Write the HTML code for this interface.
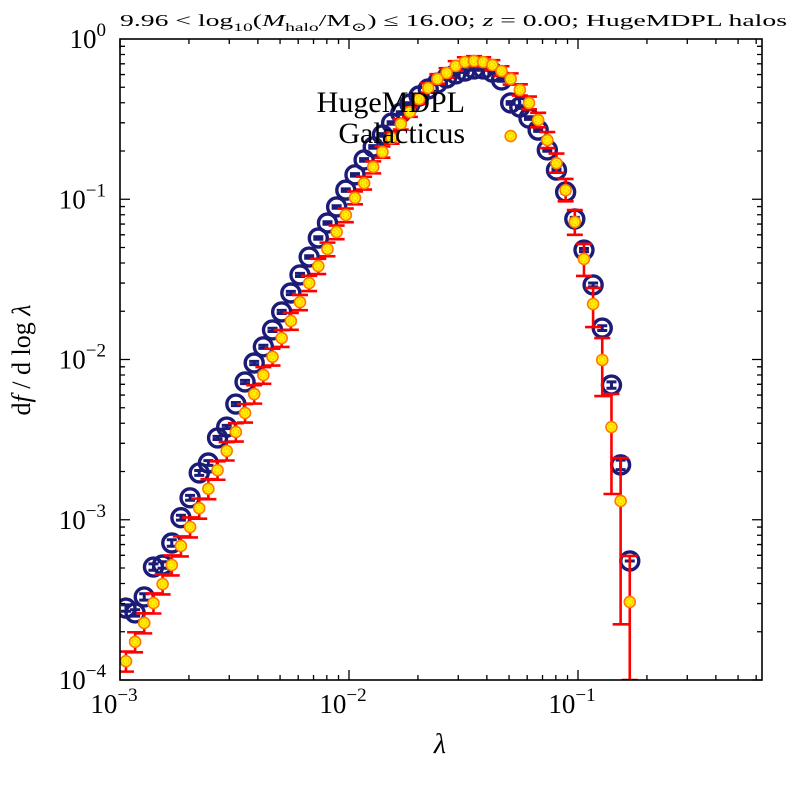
<!DOCTYPE html>
<html><head><meta charset="utf-8"><style>
html,body{margin:0;padding:0;background:#fff;overflow:hidden;width:800px;height:800px}
svg{display:block;position:fixed;top:0;left:0;overflow:hidden;font-family:"Liberation Serif","DejaVu Serif",serif}
</style></head><body>
<svg id="chart" width="800" height="800" viewBox="0 0 800 800" xmlns="http://www.w3.org/2000/svg">
<rect width="800" height="800" fill="#fff"/>
<text x="120" y="26" font-size="17" textLength="667" lengthAdjust="spacingAndGlyphs">9.96 &lt; log<tspan font-size="12" dy="5">10</tspan><tspan dy="-5">(</tspan><tspan font-style="italic">M</tspan><tspan font-size="12" dy="5">halo</tspan><tspan dy="-5">/M</tspan><tspan font-size="12" dy="5">⊙</tspan><tspan dy="-5">) ≤ 16.00; </tspan><tspan font-style="italic">z</tspan> = 0.00; HugeMDPL halos</text>
<text x="440" y="753" font-size="28" font-style="italic" text-anchor="middle">λ</text>
<text transform="translate(30,360) rotate(-90)" font-size="26" text-anchor="middle">d<tspan font-style="italic">f</tspan> / d log <tspan font-style="italic">λ</tspan></text>
<g id="marks"></g>
<g id="axes"></g>
<text x="465" y="112" font-size="30" text-anchor="end">HugeMDPL</text>
<text x="465" y="143" font-size="30" text-anchor="end">Galacticus</text>
</svg>
<script>
// ---- data ----
const lambdaGrid = [1.062e-3,1.164e-3,1.276e-3,1.400e-3,1.535e-3,1.683e-3,1.845e-3,2.023e-3,2.218e-3,2.432e-3,2.667e-3,2.924e-3,3.206e-3,3.516e-3,3.855e-3,4.227e-3,4.634e-3,5.082e-3,5.572e-3,6.109e-3,6.699e-3,7.345e-3,8.054e-3,8.831e-3,9.683e-3,
1.062e-2,1.164e-2,1.276e-2,1.400e-2,1.535e-2,1.683e-2,1.845e-2,2.023e-2,2.218e-2,2.432e-2,2.667e-2,2.924e-2,3.206e-2,3.516e-2,3.855e-2,4.227e-2,4.634e-2,5.082e-2,5.572e-2,6.109e-2,6.699e-2,7.345e-2,8.054e-2,8.831e-2,9.683e-2,
0.1062,0.1164,0.1276,0.1400,0.1535,0.1683];
const hugeValues = [2.81e-4,2.62e-4,3.30e-4,5.07e-4,5.22e-4,7.16e-4,1.03e-3,1.37e-3,1.96e-3,2.26e-3,3.24e-3,3.79e-3,5.27e-3,7.24e-3,9.51e-3,1.20e-2,1.53e-2,1.98e-2,2.60e-2,3.37e-2,4.36e-2,5.73e-2,7.11e-2,8.95e-2,0.114,
0.142,0.176,0.212,0.252,0.299,0.345,0.393,0.441,0.488,0.531,0.571,0.605,0.631,0.650,0.650,0.622,0.555,0.399,0.376,0.321,0.270,0.203,0.152,0.111,7.53e-2,
4.82e-2,2.92e-2,1.57e-2,6.93e-3,2.20e-3,5.53e-4];
const hugeErr = [0.02,0.02,0.02,0.02,0.02,0.02,0.015,0.015,0.015,0.015,0.01,0.01,0.01,0.01,0.01,0.01,0.01,0.01,0.01,0.01,0.008,0.008,0.008,0.008,0.008,
0.008,0.008,0.008,0.008,0.008,0.008,0.008,0.008,0.008,0.008,0.008,0.008,0.008,0.008,0.008,0.008,0.008,0.008,0.008,0.008,0.008,0.008,0.008,0.008,0.01,
0.01,0.012,0.015,0.02,0.03,0.0];
const galLambda = lambdaGrid.concat([5.082e-2]);
const galValues = [1.31e-4,1.73e-4,2.27e-4,3.02e-4,3.97e-4,5.22e-4,6.86e-4,9.01e-4,1.18e-3,1.56e-3,2.04e-3,2.69e-3,3.53e-3,4.64e-3,6.09e-3,8.00e-3,1.04e-2,1.36e-2,1.74e-2,2.28e-2,3.00e-2,3.83e-2,4.89e-2,6.25e-2,7.98e-2,
0.102,0.126,0.159,0.197,0.241,0.295,0.350,0.422,0.495,0.563,0.614,0.679,0.718,0.729,0.718,0.689,0.631,0.563,0.481,0.399,0.312,0.234,0.168,0.114,7.21e-2,
4.24e-2,2.22e-2,9.93e-3,3.79e-3,1.31e-3,3.07e-4,0.248];
const galErrLo = [0.065,0.065,0.065,0.065,0.065,0.065,0.065,0.065,0.065,0.065,0.06,0.06,0.06,0.06,0.06,0.055,0.055,0.055,0.055,0.05,0.05,0.05,0.045,0.045,0.045,
0.04,0.04,0.04,0.035,0.035,0.035,0.03,0.03,0.03,0.03,0.03,0.03,0.03,0.03,0.03,0.03,0.03,0.035,0.035,0.04,0.045,0.05,0.06,0.07,0.08,
0.106,0.144,0.225,0.418,0.77,3.0,0.0];
const galErrHi = [0.06,0.06,0.06,0.06,0.06,0.06,0.06,0.06,0.06,0.06,0.055,0.055,0.055,0.055,0.055,0.05,0.05,0.05,0.05,0.045,0.045,0.045,0.04,0.04,0.04,
0.04,0.04,0.035,0.035,0.035,0.03,0.03,0.03,0.03,0.03,0.03,0.03,0.03,0.03,0.03,0.03,0.03,0.035,0.035,0.04,0.045,0.05,0.06,0.07,0.075,
0.094,0.10,0.137,0.206,0.268,0.287,0.0];
const yTickExps = [0,-1,-2,-3,-4];
const xTickExps = [-3,-2,-1];

// ---- scales ----
const L=120,R=762,T=39,B=680;
const X = v => L + (Math.log10(v)+3)*229;
const Y = v => T + (-Math.log10(v))*160.25;
const clampY = y => Math.max(T, Math.min(B, y));
const NS="http://www.w3.org/2000/svg";
function mk(tag, attrs, parent){const e=document.createElementNS(NS,tag);for(const k in attrs)e.setAttribute(k,attrs[k]);parent.appendChild(e);return e;}
const marks=document.getElementById('marks'), axes=document.getElementById('axes');
const clipRect = mk('clipPath',{id:'plotclip'},marks);
mk('rect',{x:L,y:T,width:R-L,height:B-T},clipRect);
const plot = mk('g',{'clip-path':'url(#plotclip)'},marks);

// HugeMDPL circles
const gH = mk('g',{},plot);


lambdaGrid.forEach((lam,i)=>{
  const x=X(lam), y=Y(hugeValues[i]);
  const c = mk('circle',{cx:x,cy:y,r:9,fill:'none',stroke:'#1c1c78','stroke-width':3.4},gH);
  
  
  const e=hugeErr[i];
  const y1=Y(hugeValues[i]*Math.pow(10,e)), y2=Y(hugeValues[i]/Math.pow(10,e));
  const eb = mk('path',{d:`M${x},${y1}V${y2}M${x-5},${y1}H${x+5}M${x-5},${y2}H${x+5}`,stroke:'#1c1c78','stroke-width':3,fill:'none'},gH);
  
  
});
// Galacticus
const gG = mk('g',{},plot);


galLambda.forEach((lam,i)=>{
  const x=X(lam), v=galValues[i];
  const y1=clampY(Y(v*Math.pow(10,galErrHi[i]))), y2=clampY(Y(v/Math.pow(10,galErrLo[i])));
  if(galErrHi[i]>0||galErrLo[i]>0){
    const eb = mk('path',{d:`M${x},${y1}V${y2}M${x-8},${y1}H${x+8}M${x-8},${y2}H${x+8}`,stroke:'#ff0000','stroke-width':2.6,fill:'none'},gG);
    
    
  }
});
galLambda.forEach((lam,i)=>{
  const x=X(lam), y=Y(galValues[i]);
  const c = mk('circle',{cx:x,cy:y,r:5.5,fill:'#ffee00',stroke:'#ff7a00','stroke-width':1.6},gG);
  
  
  mk('circle',{cx:x,cy:y,r:2.8,fill:'none',stroke:'#ffaa00','stroke-width':0.8,'stroke-dasharray':'1.5 1.5'},gG);
});

// axes frame
const frame = mk('rect',{x:L,y:T,width:R-L,height:B-T,fill:'none',stroke:'#000','stroke-width':1.6},axes);


let tp='';
for(let d=-3; d<=0; d++){
  for(let m=1;m<=9;m++){
    const v=m*Math.pow(10,d); const x=X(v);
    if(x<L-0.5||x>R+0.5) continue;
    const len = m===1?10:5;
    tp+=`M${x},${B}v${-len}M${x},${T}v${len}`;
  }
}
for(let d=-4; d<0; d++){
  for(let m=1;m<=9;m++){
    const v=m*Math.pow(10,d); const y=Y(v);
    const len = m===1?10:5;
    tp+=`M${L},${y}h${len}M${R},${y}h${-len}`;
  }
}
const ticks = mk('path',{d:tp,stroke:'#000','stroke-width':1.3,fill:'none'},axes);


xTickExps.forEach(p=>{
  const t = mk('text',{x:X(Math.pow(10,p))-6,y:713,'font-size':27,'text-anchor':'middle'},axes);
  
  
  t.innerHTML = `10<tspan font-size="19" dy="-12">−${-p}</tspan>`;
});
yTickExps.forEach(p=>{
  const t = mk('text',{x:106,y:Y(Math.pow(10,p))+9,'font-size':27,'text-anchor':'end'},axes);
  
  
  t.innerHTML = p===0 ? `10<tspan font-size="19" dy="-12">0</tspan>` : `10<tspan font-size="19" dy="-12">−${-p}</tspan>`;
});
</script>
</body></html>
